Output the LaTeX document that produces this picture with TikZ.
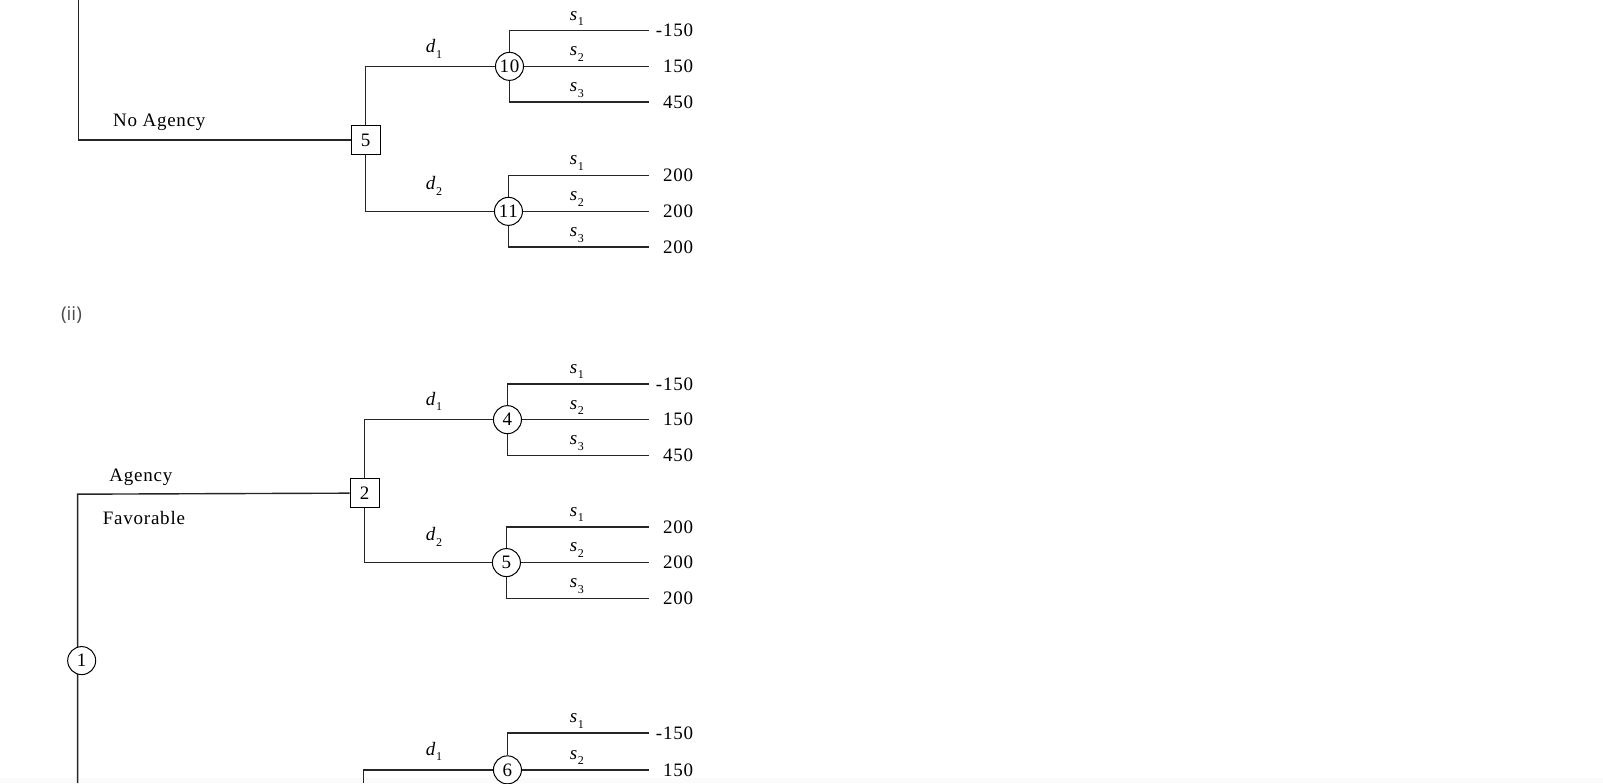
\documentclass[tikz,border=0pt]{standalone}
\usepackage{fontspec}
\setmainfont{Liberation Serif}[LetterSpace=4]
\newfontfamily\iifont{Open Sans}
\newcommand\brl[2]{\textit{#1}\raisebox{-0.3em}{\fontsize{12}{12}\selectfont #2}}
\tikzset{
  ln/.style={line width=1.4pt, black!85},
  dec/.style={draw, line width=1pt, fill=white, minimum size=29pt, inner sep=0pt, font=\fontsize{19}{19}\selectfont},
  chance/.style={draw, circle, line width=1pt, fill=white, minimum size=28pt, inner sep=0pt, font=\fontsize{19}{19}\selectfont},
  txt/.style={font=\fontsize{19}{21}\selectfont, inner sep=0pt},
  val/.style={txt, anchor=east},
}
\newcommand\chancetree[7]{%
  \node[chance] (#1) at (#3,#4) {#2};
  \coordinate (#1a) at (636,{#4-35});
  \coordinate (#1b) at (636,#4);
  \coordinate (#1c) at (636,{#4+35});
  \draw[ln] (#1.north) |- (#1a);
  \draw[ln] (#1.east) -- (#1b);
  \draw[ln] (#1.south) |- (#1c);
  \node[val] (#1va) at (679,{#4-35}) {#5};
  \node[val] (#1vb) at (679,#4) {#6};
  \node[val] (#1vc) at (679,{#4+35}) {#7};
  \node[txt] (#1sa) at (565,{#4-47}) {\brl{s}{1}};
  \node[txt] (#1sb) at (565,{#4-12}) {\brl{s}{2}};
  \node[txt] (#1sc) at (565,{#4+23}) {\brl{s}{3}};
}
\begin{document}
\begin{tikzpicture}[x=1.021pt,y=-1.021pt]
\useasboundingbox (0,0) rectangle (1570,767);
\fill[gray!3] (0,762) rectangle (1570,767);
% ---------- top tree (No Agency) ----------
\coordinate (t0) at (77,0);
\node[dec] (D5) at (358,137) {5};
\draw[ln] (t0) |- (D5.west);
\node[txt] (na) at (156,120) {No Agency};
\chancetree{C10}{10}{499}{65}{-150}{150}{450}
\chancetree{C11}{11}{498}{207}{200}{200}{200}
\draw[ln] (D5.north) |- (C10.west);
\draw[ln] (D5.south) |- (C11.west);
\node[txt] (d1a) at (425,48) {\brl{d}{1}};
\node[txt] (d2a) at (425,182) {\brl{d}{2}};
% ---------- (ii) ----------
\node[font=\iifont\fontsize{19}{21}\selectfont, text=black!70, inner sep=0pt] (ii) at (70,309) {(ii)};
% ---------- second tree ----------
\coordinate (b0) at (76,767);
\coordinate (b1) at (76,484);
\node[dec] (D2) at (357,483) {2};
\draw[ln] (b0) -- (b1) -- (D2.west);
\node[chance] (C1) at (80,647) {1};
\node[txt] (ag) at (138,467) {Agency};
\node[txt] (fav) at (141,507) {Favorable};
\chancetree{C4}{4}{497}{411}{-150}{150}{450}
\chancetree{C5}{5}{496}{551}{200}{200}{200}
\draw[ln] (D2.north) |- (C4.west);
\draw[ln] (D2.south) |- (C5.west);
\node[txt] (d1b) at (425,393) {\brl{d}{1}};
\node[txt] (d2b) at (425,526) {\brl{d}{2}};
% ---------- third subtree (cut off) ----------
\node[chance] (C6) at (497,754) {6};
\coordinate (c6top) at (636,718);
\coordinate (c6mid) at (636,754);
\coordinate (c6bot) at (497,767);
\coordinate (d3bot) at (356,767);
\coordinate (d3top) at (356,754);
\draw[ln] (d3bot) -- (d3top) -- (C6.west);
\draw[ln] (C6.north) |- (c6top);
\draw[ln] (C6.east) -- (c6mid);
\draw[ln] (C6.south) -- (c6bot);
\node[val] (v6a) at (679,718) {-150};
\node[val] (v6b) at (679,754) {150};
\node[txt] (s6a) at (565,706) {\brl{s}{1}};
\node[txt] (s6b) at (565,742) {\brl{s}{2}};
\node[txt] (d1c) at (425,736) {\brl{d}{1}};
\end{tikzpicture}
\end{document}
